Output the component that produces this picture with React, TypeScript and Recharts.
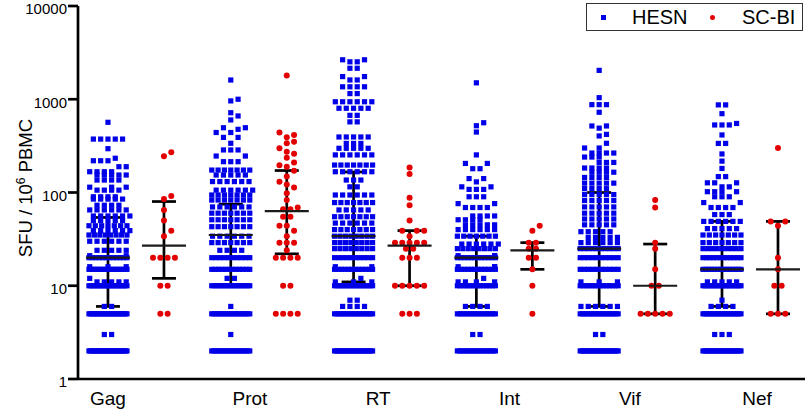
import React from "react";
import { ScatterChart, Scatter, XAxis, YAxis, ErrorBar, Label } from "recharts";

// chart frame
const W = 810;
const H = 415;
const PLOT_TOP = 6;
const PLOT_BOTTOM = 379;
const Y_AXIS_W = 78;
const X_AXIS_H = H - PLOT_BOTTOM;
const PX_PER_DECADE = (PLOT_BOTTOM - PLOT_TOP) / 4;

const FONT = '"Liberation Sans", Arial, sans-serif';
const BLUE = "#0000e8";
const RED = "#e30000";

// data
const proteins = ["Gag", "Prot", "RT", "Int", "Vif", "Nef"];
const labelPos = [0, 1.156, 2.2, 3.27, 4.25, 5.285];
const yTicks = [1, 10, 100, 1000, 10000];

// HESN: [SFU value, number of subjects]
const hesnGag: [number, number][] = [
  [2, 25], [3, 2], [5, 23], [6, 2], [10, 20], [11, 5], [12, 1], [15, 16], [16, 3], [20, 12], [21, 2],
  [24, 5], [30, 6], [35, 8], [39, 6], [44, 7], [50, 5], [56, 6], [65, 6], [73, 4], [85, 5], [90, 4],
  [106, 4], [114, 3], [136, 4], [154, 5], [167, 4], [189, 2], [219, 3], [233, 1], [295, 1], [374, 5], [566, 1],
];
const hesnProt: [number, number][] = [
  [2, 20], [3, 1], [5, 18], [6, 1], [10, 16], [12, 2], [15, 12], [20, 10], [24, 4], [29, 7], [34, 6],
  [43, 7], [51, 7], [60, 7], [70, 6], [83, 7], [94, 7], [106, 6], [131, 6], [154, 5], [174, 7], [214, 3],
  [246, 2], [286, 3], [337, 1], [390, 2], [440, 2], [476, 1], [495, 2], [600, 1], [662, 1], [717, 1],
  [960, 1], [1000, 1], [1608, 1],
];
const hesnRT: [number, number][] = [
  [2, 22], [5, 18], [6, 4], [7, 2], [10, 16], [11, 3], [12, 1], [15, 12], [16, 2], [20, 10], [25, 8],
  [29, 8], [34, 8], [40, 7], [47, 6], [55, 7], [65, 5], [78, 7], [94, 6], [115, 2], [136, 3], [167, 6],
  [197, 7], [253, 6], [298, 5], [336, 3], [394, 5], [572, 2], [672, 2], [800, 5], [940, 6], [1150, 2],
  [1360, 4], [1610, 2], [1750, 2], [2150, 2], [2520, 2], [2650, 2],
];
const hesnInt: [number, number][] = [
  [2, 18], [3, 2], [5, 16], [6, 4], [10, 14], [11, 4], [12, 1], [15, 12], [16, 3], [20, 12], [21, 3],
  [25, 8], [28, 6], [34, 7], [40, 6], [45, 5], [51, 4], [56, 4], [69, 4], [76, 2], [90, 3], [108, 3],
  [115, 2], [130, 1], [141, 2], [180, 2], [205, 2], [253, 1], [445, 1], [520, 1], [560, 1], [1500, 1],
];
const hesnVif: [number, number][] = [
  [2, 22], [3, 2], [5, 18], [6, 6], [10, 14], [11, 3], [15, 10], [20, 10], [25, 10], [29, 6], [33, 5],
  [38, 5], [45, 5], [52, 5], [60, 5], [70, 5], [82, 5], [95, 5], [110, 4], [126, 5], [145, 4], [165, 4],
  [183, 4], [210, 3], [240, 3], [265, 4], [300, 2], [337, 1], [404, 1], [420, 1], [490, 1], [517, 2],
  [725, 1], [875, 3], [1040, 1], [2040, 1],
];
const hesnNef: [number, number][] = [
  [2, 22], [3, 3], [5, 20], [6, 4], [7, 1], [10, 18], [11, 5], [15, 14], [20, 12], [25, 9], [29, 7],
  [35, 7], [41, 5], [49, 6], [58, 3], [69, 4], [78, 2], [90, 3], [102, 4], [115, 2], [127, 3], [148, 2],
  [181, 1], [217, 1], [259, 1], [336, 2], [414, 1], [530, 3], [550, 1], [700, 1], [870, 2],
];

// SC-BI: one value per subject
const scbiGag = [270, 245, 92, 85, 65, 50, 39, 34, 20, 20, 20, 20, 10, 10, 5, 5];
const scbiProt = [
  1800, 440, 414, 391, 350, 337, 298, 274, 260, 236, 210, 196, 189, 171, 148, 130, 122, 113, 98, 83, 69,
  66, 66, 55, 55, 44, 44, 39, 34, 29, 29, 29, 24, 20, 20, 20, 20, 10, 10, 5, 5, 5, 5,
];
const scbiRT = [185, 158, 88, 73, 50, 39, 39, 39, 34, 29, 29, 29, 29, 29, 25, 25, 20, 20, 20, 10, 10, 10, 10, 10, 5, 5, 5];
const scbiInt = [44, 39, 29, 29, 25, 25, 20, 20, 15, 10, 5];
const scbiVif = [83, 69, 29, 25, 15, 10, 10, 5, 5, 5, 5, 5];
const scbiNef = [300, 49, 49, 44, 20, 15, 10, 10, 5, 5, 5];

// median with interquartile range
const hesnMedian = [20, 35, 34, 20, 25, 15];
const hesnQ1 = [6, 10, 11, 6, 6, 6];
const hesnQ3 = [54, 75, 166, 34, 100, 49];
const scbiMedian = [27, 63, 27, 24, 10, 15];
const scbiQ1 = [12, 22, 10, 15, 5, 5];
const scbiQ3 = [80, 172, 39, 29, 28, 49];

const hesnAll = [hesnGag, hesnProt, hesnRT, hesnInt, hesnVif, hesnNef];
const scbiAll = [scbiGag, scbiProt, scbiRT, scbiInt, scbiVif, scbiNef];

// layout of the columns
const PAIR_GAP = 0.456;
const X_DOMAIN: [number, number] = [-0.244, 5.676];
const DOT = 5.2;
const BOX = 6;
const STEP = 7.3;
const HALF = 19;
const CANDIDATES = [0, 3.65, 7.3, 10.95, 14.6, 18.25];

function countValues(list: number[]): [number, number][] {
  const m = new Map<number, number>();
  list.forEach((v) => m.set(v, (m.get(v) || 0) + 1));
  return [...m.entries()];
}

// spread equal / near values sideways so the dots don't sit on each other
function swarm(groupX: number, pairs: [number, number][]) {
  const placed: { py: number; dx: number }[] = [];
  const hits = (py: number, dx: number) =>
    placed.filter((p) => Math.abs(p.py - py) < BOX && Math.abs(p.dx - dx) < BOX).length;
  const out: { x: number; y: number; dx: number }[] = [];
  const sorted = [...pairs].sort((a, b) => a[0] - b[0]);
  for (const [v, n] of sorted) {
    const py = Math.log10(v) * PX_PER_DECADE;
    const step = n > 1 ? Math.min(STEP, (2 * HALF) / (n - 1)) : 0;
    const row = Array.from({ length: n }, (_, i) => (i - (n - 1) / 2) * step);
    if (n < 5 && row.some((dx) => hits(py, dx) > 0)) {
      for (let i = 0; i < n; i++) {
        let best = 0;
        let bestHits = Infinity;
        for (const c of CANDIDATES) {
          const signs = c === 0 ? [0] : i % 2 ? [-c, c] : [c, -c];
          for (const dx of signs) {
            const h = hits(py, dx);
            if (h < bestHits) {
              best = dx;
              bestHits = h;
            }
          }
          if (bestHits === 0) break;
        }
        placed.push({ py, dx: best });
        out.push({ x: groupX, y: v, dx: best });
      }
    } else {
      // full row: nudge it half a step if it lands right on the row below
      let shift = 0;
      if (n < 8) {
        let bestHits = Infinity;
        for (const s of [0, step / 2, -step / 2]) {
          const h = row.reduce((acc, dx) => acc + hits(py, dx + s), 0);
          if (h < bestHits) {
            bestHits = h;
            shift = s;
          }
        }
      }
      row.forEach((r) => {
        const dx = r + shift;
        placed.push({ py, dx });
        out.push({ x: groupX, y: v, dx });
      });
    }
  }
  return out;
}

const hesnPoints = hesnAll.flatMap((pairs, i) => swarm(i, pairs));
const scbiPoints = scbiAll.flatMap((list, i) => swarm(i + PAIR_GAP, countValues(list)));

const stats = proteins.flatMap((_, i) => [
  { x: i, y: hesnMedian[i], err: [hesnMedian[i] - hesnQ1[i], hesnQ3[i] - hesnMedian[i]] },
  { x: i + PAIR_GAP, y: scbiMedian[i], err: [scbiMedian[i] - scbiQ1[i], scbiQ3[i] - scbiMedian[i]] },
]);

const SquareDot = (props: any) => {
  const { cx, cy, payload } = props;
  if (cx == null || cy == null) return null;
  return <rect x={cx + payload.dx - DOT / 2} y={cy - DOT / 2} width={DOT} height={DOT} fill={BLUE} />;
};

const RoundDot = (props: any) => {
  const { cx, cy, payload } = props;
  if (cx == null || cy == null) return null;
  return <circle cx={cx + payload.dx} cy={cy} r={3} fill={RED} />;
};

const MedianLine = (props: any) => {
  const { cx, cy } = props;
  if (cx == null || cy == null) return null;
  return <line x1={cx - 22} x2={cx + 22} y1={cy} y2={cy} stroke="#1a1a1a" strokeWidth={2.2} />;
};

const YTick = (props: any) => {
  const { x, y, payload } = props;
  return (
    <text x={x} y={y + 3} dy="0.355em" textAnchor="end" fontFamily={FONT} fontSize={15} fill="#000">
      {payload.value}
    </text>
  );
};

const YTitle = () => (
  <text
    x={0}
    y={0}
    transform="translate(32 188) rotate(-90)"
    textAnchor="middle"
    fontFamily={FONT}
    fontSize={18.5}
    fill="#000"
  >
    <tspan>SFU / 10</tspan>
    <tspan dy={-7} fontSize={12}>6</tspan>
    <tspan dy={7}> PBMC</tspan>
  </text>
);

function ChartLegend() {
  return (
    <div
      style={{
        position: "absolute",
        left: 586,
        top: 3,
        width: 217,
        height: 28,
        boxSizing: "border-box",
        border: "1.5px solid #333",
        background: "#fff",
        fontFamily: FONT,
        fontSize: 20,
        color: "#000",
      }}
    >
      <span style={{ position: "absolute", left: 14, top: 11, width: 5, height: 5, background: BLUE }} />
      <span style={{ position: "absolute", left: 45, top: 2, lineHeight: "22px" }}>HESN</span>
      <span
        style={{ position: "absolute", left: 123, top: 11, width: 5, height: 5, borderRadius: "50%", background: RED }}
      />
      <span style={{ position: "absolute", left: 155, top: 2, lineHeight: "22px" }}>SC-BI</span>
    </div>
  );
}

export default function App() {
  return (
    <div style={{ position: "absolute", left: 0, top: 0, width: W, height: H, background: "#fff" }}>
      <ScatterChart width={W} height={H} margin={{ top: PLOT_TOP, right: 5, bottom: 0, left: 0 }}>
        <XAxis
          type="number"
          dataKey="x"
          domain={X_DOMAIN}
          allowDataOverflow
          ticks={labelPos}
          interval={0}
          tickFormatter={(v: number) => proteins[labelPos.indexOf(v)] ?? ""}
          height={X_AXIS_H}
          tickLine={false}
          tickSize={0}
          tickMargin={13}
          axisLine={{ stroke: "#000", strokeWidth: 2.7 }}
          tick={{ fill: "#000", fontSize: 19, fontFamily: FONT }}
        />
        <YAxis
          type="number"
          dataKey="y"
          scale="log"
          domain={[1, 10000]}
          allowDataOverflow
          ticks={yTicks}
          interval={0}
          width={Y_AXIS_W}
          tickSize={10}
          tickMargin={1}
          axisLine={{ stroke: "#000", strokeWidth: 2.7 }}
          tickLine={{ stroke: "#000", strokeWidth: 2.7 }}
          tick={YTick}
        >
          <Label content={YTitle} />
        </YAxis>
        <Scatter name="HESN" data={hesnPoints} shape={SquareDot} isAnimationActive={false} />
        <Scatter name="SC-BI" data={scbiPoints} shape={RoundDot} isAnimationActive={false} />
        <Scatter data={stats} shape={MedianLine} isAnimationActive={false}>
          <ErrorBar dataKey="err" direction="y" width={12} stroke="#000" strokeWidth={2.7} isAnimationActive={false} />
        </Scatter>
      </ScatterChart>
      <ChartLegend />
    </div>
  );
}
